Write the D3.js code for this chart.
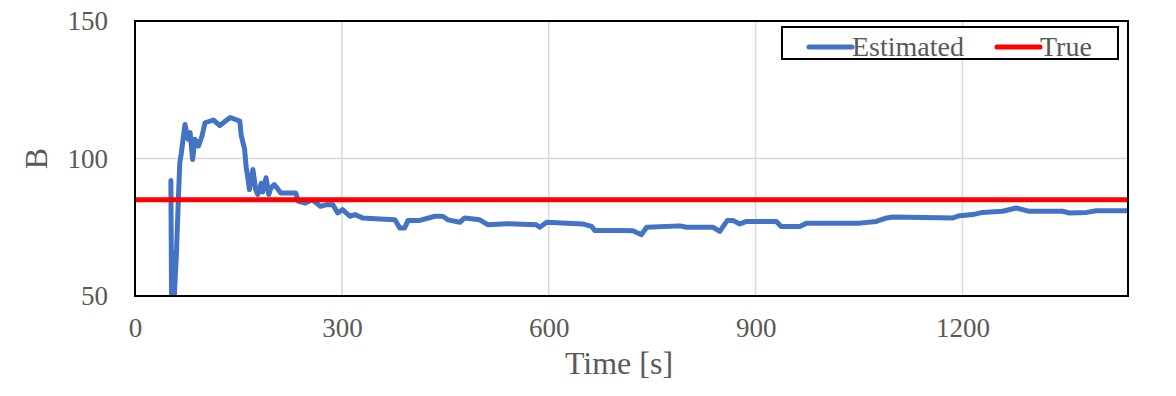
<!DOCTYPE html>
<html>
<head>
<meta charset="utf-8">
<script src="https://cdn.jsdelivr.net/npm/d3@7"></script>
<style>
  body { margin: 0; background: #fff; }
  text { font-family: "Liberation Serif", "Times New Roman", serif; fill: #595959; }
</style>
</head>
<body>
<div class="container"></div>
<script>
// time [s] and estimated B
const time = [52, 53, 55, 57, 60, 63, 65, 67, 72.5, 77, 80, 83.5, 87, 92, 97, 101.5, 113.6, 123, 138, 152, 154, 159, 161, 164, 166, 171, 175, 178, 183, 185, 190, 194, 197, 202, 206, 211, 233, 237, 247, 257, 269, 278, 287, 294, 301, 311.6, 319, 330, 355, 377, 384, 391, 396, 413, 435, 446, 454, 471, 478, 500, 512, 539, 582, 587, 597, 649, 662, 667, 703, 722, 734.5, 742, 790, 800, 838, 848, 859, 867, 877, 887, 930, 937, 964, 974, 1051, 1075, 1090, 1099, 1186, 1196, 1215, 1229, 1258, 1278, 1297, 1345, 1355, 1380, 1394, 1440];
const estimated = [92, 50, 66, 50, 65, 86, 98.5, 101.7, 112.4, 107, 109.4, 99.6, 107, 104.5, 108, 113, 114, 112, 114.9, 113.6, 108.4, 103.3, 97.2, 92.3, 88.7, 96, 88.7, 86.9, 91, 87.8, 93, 86.9, 89.3, 90.5, 89.3, 87.5, 87.5, 84.4, 83.8, 85, 82.6, 83.2, 83.2, 80.2, 81.4, 79, 79.6, 78.4, 78, 77.7, 74.7, 74.7, 77.5, 77.5, 79, 79, 77.7, 76.8, 78.4, 77.7, 75.9, 76.3, 75.9, 75, 76.8, 76.2, 75.3, 73.8, 73.8, 73.7, 72.3, 75, 75.5, 75, 75, 73.5, 77.5, 77.5, 76.2, 77.1, 77.1, 75.3, 75.3, 76.5, 76.5, 77.1, 78.4, 78.7, 78.4, 79.2, 79.6, 80.4, 80.8, 82, 80.8, 80.8, 80.2, 80.4, 81, 81];
const trueB = 85;
const xTicks = [0, 300, 600, 900, 1200];
const yTicks = [50, 100, 150];
const seriesNames = ["Estimated", "True"];
const seriesColors = ["#4472C4", "#FF0000"];

const width = 1176, height = 396;
const margin = {left: 135, right: 48, top: 21, bottom: 100};

const svg = d3.select(".container").append("svg")
  .attr("width", width)
  .attr("height", height);

const x = d3.scaleLinear().domain([0, 1440]).range([margin.left, width - margin.right]);
const y = d3.scaleLinear().domain([50, 150]).range([height - margin.bottom, margin.top]);

// grid
svg.append("g").selectAll("line.gx")
  .data(xTicks.slice(1))
  .enter().append("line")
  .attr("x1", d => x(d)).attr("x2", d => x(d))
  .attr("y1", y(50)).attr("y2", y(150))
  .attr("stroke", "#D9D9D9").attr("stroke-width", 1.5);

svg.append("g").selectAll("line.gy")
  .data(yTicks.slice(1, -1))
  .enter().append("line")
  .attr("x1", x(0)).attr("x2", x(1440))
  .attr("y1", d => y(d)).attr("y2", d => y(d))
  .attr("stroke", "#D9D9D9").attr("stroke-width", 1.5);

// axes (labels only, Excel style)
const xAxis = svg.append("g")
  .attr("transform", `translate(0, ${y(50)})`)
  .call(d3.axisBottom(x).tickValues(xTicks).tickFormat(d3.format("d")).tickSize(0).tickPadding(22));
xAxis.select(".domain").remove();
xAxis.selectAll("text").attr("font-size", 27).attr("fill", "#595959")
  .attr("font-family", "Liberation Serif");

const yAxis = svg.append("g")
  .attr("transform", `translate(${x(0)}, 0)`)
  .call(d3.axisLeft(y).tickValues(yTicks).tickSize(0).tickPadding(27));
yAxis.select(".domain").remove();
yAxis.selectAll("text").attr("font-size", 27).attr("fill", "#595959")
  .attr("font-family", "Liberation Serif");

// lines
svg.append("clipPath").attr("id", "plot")
  .append("rect")
  .attr("x", x(0)).attr("y", y(150) - 3)
  .attr("width", x(1440) - x(0)).attr("height", y(50) - y(150) + 3);

const line = d3.line().x((d, i) => x(time[i])).y(d => y(d));

svg.append("path")
  .datum(estimated)
  .attr("clip-path", "url(#plot)")
  .attr("fill", "none")
  .attr("stroke", seriesColors[0])
  .attr("stroke-width", 5)
  .attr("stroke-linejoin", "round")
  .attr("stroke-linecap", "round")
  .attr("d", line);

svg.append("line")
  .attr("x1", x(0)).attr("x2", x(1440))
  .attr("y1", y(trueB)).attr("y2", y(trueB))
  .attr("stroke", seriesColors[1])
  .attr("stroke-width", 5);

// frame
svg.append("rect")
  .attr("x", x(0)).attr("y", y(150))
  .attr("width", x(1440) - x(0)).attr("height", y(50) - y(150))
  .attr("fill", "none").attr("stroke", "#000").attr("stroke-width", 2);

// axis titles
svg.append("text")
  .attr("x", 619).attr("y", 374)
  .attr("text-anchor", "middle")
  .attr("font-size", 32)
  .text("Time [s]");

svg.append("text")
  .attr("transform", `translate(47, ${(y(50) + y(150)) / 2}) rotate(-90)`)
  .attr("text-anchor", "middle")
  .attr("font-size", 32)
  .text("B");

// legend
const lg = svg.append("g");
lg.append("rect")
  .attr("x", 782).attr("y", 27).attr("width", 336).attr("height", 32)
  .attr("fill", "#fff").attr("stroke", "#000").attr("stroke-width", 2);

const lgX = [809, 997];
seriesNames.forEach((name, i) => {
  lg.append("line")
    .attr("x1", lgX[i]).attr("x2", lgX[i] + 43)
    .attr("y1", 47).attr("y2", 47)
    .attr("stroke", seriesColors[i]).attr("stroke-width", 5)
    .attr("stroke-linecap", "round");
  lg.append("text")
    .attr("x", lgX[i] + 43).attr("y", 56)
    .attr("font-size", 28)
    .text(name);
});
</script>
</body>
</html>
